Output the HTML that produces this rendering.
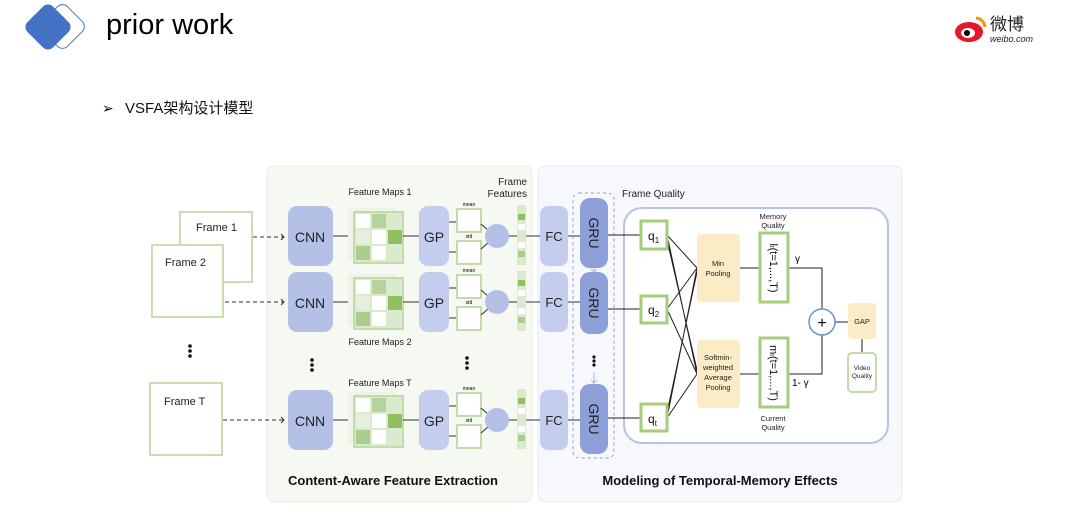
<!DOCTYPE html>
<html><head><meta charset="utf-8"><style>
body{margin:0;width:1080px;height:522px;background:#fff;overflow:hidden;position:relative;font-family:"Liberation Sans","Noto Sans CJK SC",sans-serif}
</style></head><body>
<svg width="1080" height="522" viewBox="0 0 1080 522" xmlns="http://www.w3.org/2000/svg" font-family="Liberation Sans, Noto Sans CJK SC, sans-serif">
<!-- header -->
<rect x="45" y="9" width="35" height="35" rx="7" transform="rotate(45 62.5 26.5)" fill="#fff" stroke="#4472c4" stroke-width="1"/>
<rect x="30" y="9" width="36" height="36" rx="7" transform="rotate(45 48 27)" fill="#4472c4"/>
<text x="106" y="34" font-size="29" fill="#000">prior work</text>
<text x="102" y="113" font-size="14">➢</text>
<text x="125" y="113" font-size="15" fill="#111">VSFA架构设计模型</text>
<!-- weibo -->
<ellipse cx="969" cy="32" rx="14" ry="10" fill="#e6162d"/>
<ellipse cx="968" cy="33" rx="7" ry="5" fill="#fff"/>
<circle cx="967" cy="33" r="3" fill="#000"/>
<path d="M976 18 a10 10 0 0 1 9 9" stroke="#f39800" stroke-width="3" fill="none"/>
<text x="990" y="30" font-size="17" fill="#222">微博</text>
<text x="990" y="42" font-size="9" font-style="italic" fill="#222">weibo.com</text>

<!-- panels -->
<rect x="267" y="166" width="265" height="336" rx="7" fill="#f6f9f1" stroke="#e9efe2"/>
<rect x="538" y="166" width="364" height="336" rx="7" fill="#f6f8fc" stroke="#e6eaf2"/>
<text x="393" y="485" font-size="13" font-weight="bold" text-anchor="middle" fill="#111">Content-Aware Feature Extraction</text>
<text x="720" y="485" font-size="13" font-weight="bold" text-anchor="middle" fill="#111">Modeling of Temporal-Memory Effects</text>

<!-- frames -->
<g fill="#fff" stroke="#c9dfb0" stroke-width="2">
<rect x="180" y="212" width="72" height="70"/>
<rect x="152" y="245" width="71" height="72"/>
<rect x="150" y="383" width="72" height="72"/>
</g>
<g font-size="11" fill="#222">
<text x="196" y="231">Frame 1</text><text x="165" y="266">Frame 2</text><text x="164" y="405">Frame T</text>
</g>
<g fill="#111"><circle cx="190" cy="346" r="1.8"/><circle cx="190" cy="351" r="1.8"/><circle cx="190" cy="356" r="1.8"/>
<circle cx="312" cy="360" r="1.8"/><circle cx="312" cy="365" r="1.8"/><circle cx="312" cy="370" r="1.8"/>
<circle cx="467" cy="358" r="1.8"/><circle cx="467" cy="363" r="1.8"/><circle cx="467" cy="368" r="1.8"/>
<circle cx="594" cy="357" r="1.6"/><circle cx="594" cy="361" r="1.6"/><circle cx="594" cy="365" r="1.6"/></g>
<g stroke="#333" stroke-dasharray="4 3" fill="none">
<line x1="253" y1="237" x2="284" y2="237"/><line x1="225" y1="302" x2="284" y2="302"/><line x1="223" y1="420" x2="284" y2="420"/>
</g>
<g stroke="#333" fill="none"><path d="M281 234 l3 3 -3 3M281 299 l3 3 -3 3M281 417 l3 3 -3 3"/></g>

<!-- rows -->
<g id="r1">
<rect x="288" y="206" width="45" height="60" rx="9" fill="#b5c0e6"/>
<text x="310" y="242" font-size="14" text-anchor="middle" fill="#222">CNN</text>
<line x1="333" y1="236" x2="353" y2="236" stroke="#333"/>
<rect x="348" y="208" width="48" height="52" fill="#eef3e6"/>
<rect x="354" y="212" width="49" height="51" fill="#dbe9cf" stroke="#c2dbab" stroke-width="2"/>
<rect x="356" y="214" width="14" height="14" fill="#fff"/><rect x="372" y="214" width="14" height="14" fill="#b5d49a"/><rect x="388" y="214" width="14" height="14" fill="#dbe9cf"/>
<rect x="356" y="230" width="14" height="14" fill="#e6efdd"/><rect x="372" y="230" width="14" height="14" fill="#fff"/><rect x="388" y="230" width="14" height="14" fill="#8fbf5e"/>
<rect x="356" y="246" width="14" height="14" fill="#a9cd8a"/><rect x="372" y="246" width="14" height="14" fill="#fff"/><rect x="388" y="246" width="14" height="14" fill="#dbe9cf"/>
<line x1="403" y1="236" x2="419" y2="236" stroke="#333"/>
<rect x="419" y="206" width="30" height="60" rx="9" fill="#c5cdee"/>
<text x="434" y="242" font-size="14" text-anchor="middle" fill="#222">GP</text>
<line x1="449" y1="222" x2="457" y2="222" stroke="#333"/><line x1="449" y1="252" x2="457" y2="252" stroke="#333"/>
<rect x="457" y="209" width="24" height="23" fill="#fff" stroke="#c2dbab" stroke-width="2"/>
<rect x="457" y="241" width="24" height="23" fill="#fff" stroke="#c2dbab" stroke-width="2"/>
<text x="469" y="206" font-size="5" text-anchor="middle">mean</text><text x="469" y="238" font-size="5" text-anchor="middle">std</text>
<line x1="481" y1="224" x2="489" y2="231" stroke="#333"/><line x1="481" y1="249" x2="489" y2="242" stroke="#333"/>
<circle cx="497" cy="236" r="12" fill="#b5c0e6"/>
<line x1="509" y1="236" x2="517" y2="236" stroke="#333"/><line x1="525" y1="236" x2="540" y2="236" stroke="#333"/>
<rect x="517" y="205" width="9" height="60" fill="#dbe9cf"/>
<rect x="518" y="214" width="7" height="6" fill="#8fbf5e"/><rect x="518" y="224" width="7" height="6" fill="#fff"/><rect x="518" y="242" width="7" height="6" fill="#fff"/><rect x="518" y="251" width="7" height="6" fill="#a9cd8a"/>
<rect x="540" y="206" width="28" height="60" rx="8" fill="#c5cdee"/>
<text x="554" y="241" font-size="13" text-anchor="middle" fill="#222">FC</text>
<line x1="568" y1="236" x2="580" y2="236" stroke="#333"/>
</g>
<use href="#r1" y="66"/>
<use href="#r1" y="184"/>
<text x="380" y="195" font-size="9" text-anchor="middle" fill="#222">Feature Maps 1</text>
<text x="380" y="345" font-size="9" text-anchor="middle" fill="#222">Feature Maps 2</text>
<text x="380" y="386" font-size="9" text-anchor="middle" fill="#222">Feature Maps T</text>
<text x="527" y="185" font-size="10" text-anchor="end" fill="#222">Frame</text>
<text x="527" y="197" font-size="10" text-anchor="end" fill="#222">Features</text>
<text x="622" y="197" font-size="10" fill="#222">Frame Quality</text>

<!-- GRU -->
<rect x="573" y="193" width="41" height="265" rx="6" fill="none" stroke="#8d9fd8" stroke-dasharray="3 3"/>
<g fill="#8d9fd8"><rect x="580" y="198" width="28" height="70" rx="10"/><rect x="580" y="272" width="28" height="62" rx="10"/><rect x="580" y="384" width="28" height="70" rx="10"/></g>
<g stroke="#aab8e6" fill="none"><path d="M594 268v5M591 269l3 3 3-3M594 372v12M591 380l3 3 3-3"/></g>
<g font-size="14" fill="#222" text-anchor="middle">
<text transform="translate(589 233) rotate(90)">GRU</text>
<text transform="translate(589 303) rotate(90)">GRU</text>
<text transform="translate(589 419) rotate(90)">GRU</text>
</g>
<rect x="624" y="208" width="264" height="235" rx="18" fill="#fff" stroke="#b6c3e8" stroke-width="2"/>
<g stroke="#222" fill="none">
<line x1="608" y1="235" x2="641" y2="235"/><line x1="608" y1="309" x2="641" y2="309"/><line x1="608" y1="418" x2="641" y2="418"/>
<path d="M667 235 L697 268 M667 235 L697 374 M667 309 L697 268 M667 309 L697 374 M667 418 L697 268 M667 418 L697 374 M667 240 L697 370 M667 413 L697 272"/>
<line x1="740" y1="268" x2="760" y2="268"/><line x1="740" y1="374" x2="760" y2="374"/>
<path d="M788 268 H822 V309 M788 374 H822 V335 M835 322 H848 M862 339 V353"/>
</g>
<g fill="#fff" stroke="#a6cd7e" stroke-width="3">
<rect x="641" y="221" width="26" height="28"/><rect x="641" y="296" width="26" height="27"/><rect x="641" y="404" width="26" height="27"/>
<rect x="760" y="233" width="28" height="69"/><rect x="760" y="338" width="28" height="69"/>
</g>
<rect x="848" y="353" width="28" height="39" rx="4" fill="#fff" stroke="#c2dbab" stroke-width="2"/>
<g fill="#fcecc6"><rect x="697" y="234" width="43" height="68" rx="4"/><rect x="697" y="340" width="43" height="68" rx="4"/><rect x="848" y="303" width="28" height="36" rx="4"/></g>
<circle cx="822" cy="322" r="13" fill="#fff" stroke="#6b8ed6" stroke-width="1.5"/>
<text x="822" y="328" font-size="16" text-anchor="middle">+</text>
<g font-size="12" fill="#111">
<text x="648" y="240">q<tspan font-size="8" dy="3">1</tspan></text>
<text x="648" y="314">q<tspan font-size="8" dy="3">2</tspan></text>
<text x="648" y="423">q<tspan font-size="8" dy="3">t</tspan></text>
</g>
<g font-size="7.5" fill="#222" text-anchor="middle">
<text x="718" y="266">Min</text><text x="718" y="276">Pooling</text>
<text x="718" y="360">Softmin-</text><text x="718" y="370">weighted</text><text x="718" y="380">Average</text><text x="718" y="390">Pooling</text>
<text x="773" y="219">Memory</text><text x="773" y="228">Quality</text>
<text x="773" y="421">Current</text><text x="773" y="430">Quality</text>
<text x="862" y="324">GAP</text>
<text x="862" y="370" font-size="6.5">Video</text><text x="862" y="378" font-size="6.5">Quality</text>
</g>
<g font-size="11" fill="#111" text-anchor="middle">
<text transform="translate(770 268) rotate(90)">l<tspan font-size="6">t</tspan>(t=1,...,T)</text>
<text transform="translate(770 373) rotate(90)">m<tspan font-size="6">t</tspan>(t=1,...,T)</text>
</g>
<text x="795" y="262" font-size="10">γ</text>
<text x="792" y="386" font-size="10">1- γ</text>
</svg>
</body></html>
